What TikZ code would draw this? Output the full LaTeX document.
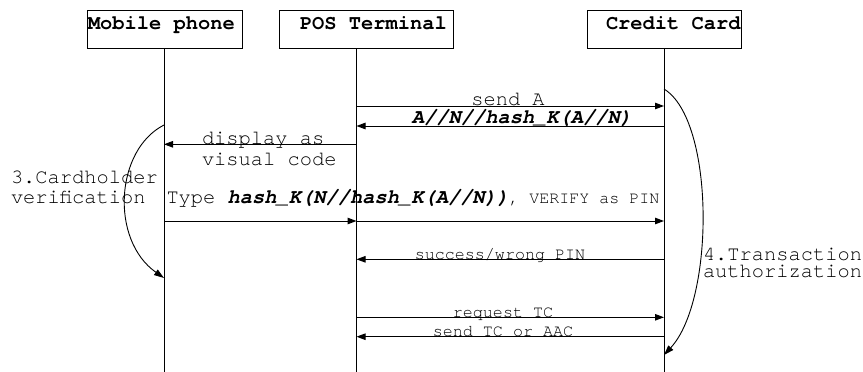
\documentclass[tikz,border=0pt]{standalone}
\usepackage{fontspec}
\setmainfont{TeX Gyre Cursor}
\usetikzlibrary{arrows.meta}

\newcommand{\lines}[1]{\begin{tabular}[t]{@{}l@{}}#1\end{tabular}}

\begin{document}
\begin{tikzpicture}[x=1pt,y=-1pt,
  every node/.style={inner sep=0pt, outer sep=0pt},
  big/.style={font=\fontsize{20.4}{20}\selectfont},
  small/.style={font=\fontsize{16.7}{17}\selectfont},
  hdr/.style={font=\fontsize{20.4}{20}\selectfont\bfseries},
  formula/.style={font=\fontsize{20.4}{20}\selectfont\bfseries\itshape},
  actor/.style={draw, line width=1pt, minimum width=#1, minimum height=38.5},
  lifeline/.style={line width=1pt},
  msg/.style={line width=1pt, -{Triangle[length=9pt,width=6.5pt]}},
  phase/.style={line width=0.9pt, -{Triangle[length=10pt,width=6.5pt]}}
]
\useasboundingbox (0,0) rectangle (863,372);

% participants
\node[actor=155] (mob)  at (164.5,29.25) {};
\node[actor=174] (pos)  at (366,29.25) {};
\node[actor=154] (card) at (664,29.25) {};
\node[hdr, anchor=base west] (mobT)  at (88,30)  {Mobile phone};
\node[hdr, anchor=base west] (posT)  at (300,30) {POS Terminal};
\node[hdr, anchor=base west] (cardT) at (606,30) {Credit Card};

% lifelines
\coordinate (mobEnd)  at (164,372);
\coordinate (posEnd)  at (356.5,372);
\coordinate (cardEnd) at (664,372);
\draw[lifeline] (mob.south -| mobEnd) -- (mobEnd);
\draw[lifeline] (pos.south -| posEnd) -- (posEnd);
\draw[lifeline] (card.south -| cardEnd) -- (cardEnd);

% message rows
\coordinate (r1) at (0,106);
\coordinate (r2) at (0,126);
\coordinate (r3) at (0,144.3);
\coordinate (r4) at (0,221);
\coordinate (r5) at (0,259.3);
\coordinate (r6) at (0,317.3);
\coordinate (r7) at (0,336.7);

\draw[msg] (posEnd |- r1) -- (cardEnd |- r1);
\node[big, anchor=base] (m1) at (508,105.5) {send A};

\draw[msg] (cardEnd |- r2) -- (posEnd |- r2);
\node[formula, anchor=base] (m2) at (522,123.5) {A//N//hash\_K(A//N)};

\draw[msg] (posEnd |- r3) -- (mobEnd |- r3);
\node[font=\fontsize{20.4}{21}\selectfont, anchor=base west] (m3) at (202,144)
  {\lines{display as\\visual code}};

\draw[msg] (mobEnd |- r4) -- (posEnd |- r4);
\draw[msg] (posEnd |- r4) -- (cardEnd |- r4);
\node[big, anchor=base west] (m4) at (166.5,203.5)
  {Type {\bfseries\itshape hash\_K(N//hash\_K(A//N))}{\fontsize{16.7}{17}\selectfont , VERIFY as PIN}};

\draw[msg] (cardEnd |- r5) -- (posEnd |- r5);
\node[small, anchor=base] (m5) at (500,259.5) {success/wrong PIN};

\draw[msg] (posEnd |- r6) -- (cardEnd |- r6);
\node[small, anchor=base] (m6) at (503,317) {request TC};

\draw[msg] (cardEnd |- r7) -- (posEnd |- r7);
\node[small, anchor=base] (m7) at (503,336.5) {send TC or AAC};

% phase brackets
\coordinate (v1) at (0,125);
\coordinate (v2) at (0,278);
\draw[phase] (mobEnd |- v1) .. controls (115,150) and (110,240) .. (mobEnd |- v2);
\node[font=\fontsize{20.4}{20}\selectfont, anchor=base west] (ph3) at (11,183)
  {\lines{3.Cardholder\\verification}};

\coordinate (t1) at (0,89);
\coordinate (t2) at (0,355);
\draw[phase] (cardEnd |- t1) .. controls (715,120) and (715,300) .. (cardEnd |- t2);
\node[font=\fontsize{20.4}{17}\selectfont, anchor=base west] (ph4) at (703,260)
  {\lines{4.Transaction\\authorization}};
\end{tikzpicture}
\end{document}
